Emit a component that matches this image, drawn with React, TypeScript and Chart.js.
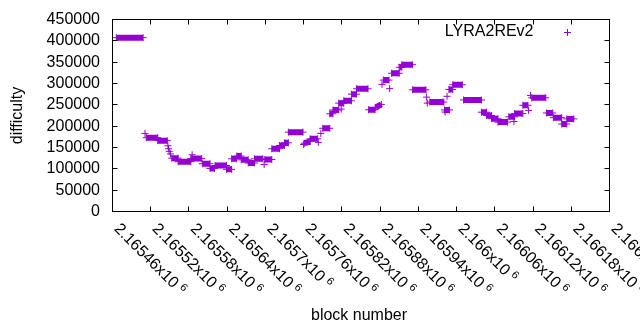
import React, { useEffect, useRef } from "react";
import { Chart, registerables } from "chart.js";

Chart.register(...registerables);

const seriesName = "LYRA2REv2";
const xTitle = "block number";
const yTitle = "difficulty";
const PURPLE = "#9400d3";
const FONT = "'Liberation Sans', Arial, sans-serif";

const xMin = 2165460;
const xMax = 2166240;
const yMin = 0;
const yMax = 450000;

const xTicks = [2165460, 2165520, 2165580, 2165640, 2165700, 2165760, 2165820, 2165880, 2165940, 2166000, 2166060, 2166120, 2166180, 2166240];
const xTickLabels = ["2.16546", "2.16552", "2.16558", "2.16564", "2.1657", "2.16576", "2.16582", "2.16588", "2.16594", "2.166", "2.16606", "2.16612", "2.16618", "2.16624"];
const yTicks = [0, 50000, 100000, 150000, 200000, 250000, 300000, 350000, 400000, 450000];
const yTickLabels = ["0", "50000", "100000", "150000", "200000", "250000", "300000", "350000", "400000", "450000"];

// runs of consecutive blocks: first block, last block, difficulty at first, difficulty at last
const segFrom = [
  2165466, 2165511, 2165513, 2165531, 2165547, 2165548, 2165549, 2165551, 2165553, 2165563,
  2165583, 2165585, 2165601, 2165613, 2165621, 2165639, 2165647, 2165655, 2165662, 2165673,
  2165683, 2165698, 2165699, 2165710, 2165722, 2165730, 2165736, 2165760, 2165761, 2165770,
  2165783, 2165787, 2165790, 2165801, 2165806, 2165815, 2165819, 2165823, 2165835, 2165843,
  2165862, 2165873, 2165883, 2165885, 2165895, 2165898, 2165910, 2165914, 2165931, 2165953,
  2165954, 2165958, 2165981, 2165982, 2165985, 2165988, 2165994, 2166011, 2166039, 2166047,
  2166055, 2166065, 2166082, 2166090, 2166091, 2166104, 2166113, 2166116, 2166118, 2166141,
  2166152, 2166165, 2166173,
];
const segTo = [
  2165508, 2165511, 2165531, 2165546, 2165547, 2165548, 2165549, 2165551, 2165563, 2165583,
  2165600, 2165585, 2165613, 2165620, 2165639, 2165647, 2165655, 2165662, 2165673, 2165683,
  2165696, 2165698, 2165710, 2165722, 2165730, 2165736, 2165759, 2165760, 2165770, 2165782,
  2165783, 2165787, 2165801, 2165806, 2165815, 2165823, 2165819, 2165835, 2165843, 2165861,
  2165872, 2165882, 2165883, 2165894, 2165895, 2165910, 2165914, 2165931, 2165952, 2165953,
  2165954, 2165980, 2165989, 2165982, 2165985, 2165994, 2166009, 2166039, 2166047, 2166055,
  2166065, 2166080, 2166091, 2166090, 2166104, 2166112, 2166113, 2166116, 2166140, 2166151,
  2166165, 2166173, 2166184,
];
const segStartDiff = [
  407500, 183000, 173000, 166000, 154000, 147000, 141000, 135000, 125000, 116800,
  124000, 133000, 112000, 101000, 107800, 98800, 123500, 130000, 121100, 113700,
  123500, 110000, 121800, 147000, 154700, 161000, 186000, 157000, 160000, 170300,
  162000, 183000, 195000, 229000, 238000, 254000, 240000, 259500, 275000, 287600,
  238500, 244000, 298000, 308000, 288000, 324000, 338000, 344000, 285200, 268000,
  254000, 256500, 238000, 233000, 270000, 286000, 297000, 261500, 232800, 225000,
  217500, 209500, 222000, 211000, 229500, 249000, 237000, 272000, 266500, 231000,
  220000, 205000, 217000,
];
const segEndDiff = [
  407500, 183000, 173000, 166000, 154000, 147000, 141000, 135000, 125000, 116800,
  124000, 133000, 112000, 101000, 107800, 98800, 123500, 130000, 121100, 113700,
  123500, 110000, 121800, 147000, 154700, 161000, 186000, 157000, 164000, 170300,
  162000, 183000, 195000, 229000, 238000, 254000, 240000, 259500, 275000, 287600,
  238500, 251000, 298000, 308000, 288000, 324000, 338000, 344000, 285200, 268000,
  254000, 256500, 238000, 233000, 270000, 286000, 297000, 261500, 232800, 225000,
  217500, 209500, 222000, 211000, 229500, 249000, 237000, 272000, 266500, 231000,
  220000, 205000, 217000,
];

const framePlugin = {
  id: "gnuframe",
  afterDraw(chart: any) {
    const ctx: CanvasRenderingContext2D = chart.ctx;
    const { left, right, top, bottom } = chart.chartArea;
    const xs = chart.scales.x;
    const ys = chart.scales.y;
    const snap = (v: number) => Math.round(v - 0.5) + 0.5;
    ctx.save();
    ctx.strokeStyle = "#000";
    ctx.lineWidth = 1;
    ctx.strokeRect(left, top, right - left, bottom - top);
    const tl = 5;
    ctx.beginPath();
    xTicks.forEach((v) => {
      const px = snap(xs.getPixelForValue(v));
      ctx.moveTo(px, bottom);
      ctx.lineTo(px, bottom - tl);
      ctx.moveTo(px, top);
      ctx.lineTo(px, top + tl);
    });
    yTicks.forEach((v) => {
      const py = snap(ys.getPixelForValue(v));
      ctx.moveTo(left, py);
      ctx.lineTo(left + tl, py);
      ctx.moveTo(right, py);
      ctx.lineTo(right - tl, py);
    });
    ctx.stroke();

    ctx.fillStyle = "#000";
    ctx.font = `16px ${FONT}`;
    ctx.textAlign = "right";
    ctx.textBaseline = "middle";
    yTicks.forEach((v, i) => {
      ctx.fillText(yTickLabels[i], 100, ys.getPixelForValue(v));
    });

    xTicks.forEach((v, i) => {
      const px = xs.getPixelForValue(v);
      ctx.save();
      ctx.translate(px + 4, bottom + 15);
      ctx.rotate(Math.PI / 4);
      ctx.textAlign = "left";
      ctx.textBaseline = "middle";
      ctx.font = `16px ${FONT}`;
      const main = xTickLabels[i] + "x10";
      ctx.fillText(main, 0, 0);
      const w = ctx.measureText(main).width;
      ctx.font = `11px ${FONT}`;
      ctx.fillText("6", w + 4, -4);
      ctx.restore();
    });

    ctx.font = `16px ${FONT}`;
    ctx.textAlign = "center";
    ctx.textBaseline = "middle";
    ctx.fillText(xTitle, (left + right) / 2 - 2, 316);
    ctx.save();
    ctx.translate(17.5, (top + bottom) / 2);
    ctx.rotate(-Math.PI / 2);
    ctx.fillText(yTitle, 0, 0);
    ctx.restore();

    ctx.textAlign = "right";
    ctx.fillText(seriesName, 533.5, 32);
    ctx.strokeStyle = PURPLE;
    ctx.beginPath();
    ctx.moveTo(564, 32.5);
    ctx.lineTo(571, 32.5);
    ctx.moveTo(567.5, 29);
    ctx.lineTo(567.5, 36);
    ctx.stroke();
    ctx.restore();
  },
};

export default function App() {
  const ref = useRef<HTMLCanvasElement>(null);
  useEffect(() => {
    const pts: any[] = [];
    for (let i = 0; i < segFrom.length; i++) {
      pts.push({ x: segFrom[i], y: segStartDiff[i] });
      if (segTo[i] !== segFrom[i]) pts.push({ x: segTo[i], y: segEndDiff[i] });
      pts.push({ x: segTo[i], y: null });
    }
    const chart = new Chart(ref.current as HTMLCanvasElement, {
      type: "line",
      data: {
        datasets: [
          {
            label: seriesName,
            data: pts,
            borderColor: PURPLE,
            backgroundColor: PURPLE,
            borderWidth: 6,
            borderCapStyle: "butt",
            pointStyle: "cross",
            pointRadius: 3.5,
            pointBorderWidth: 1,
            pointBorderColor: PURPLE,
            spanGaps: false,
            tension: 0,
            fill: false,
          } as any,
        ],
      },
      options: {
        animation: false,
        responsive: false,
        maintainAspectRatio: false,
        events: [],
        layout: { padding: { left: 112.5, right: 30.5, top: 19.5, bottom: 118.5 } },
        scales: {
          x: { type: "linear", min: xMin, max: xMax, display: false },
          y: { type: "linear", min: yMin, max: yMax, display: false },
        },
        plugins: { legend: { display: false }, tooltip: { enabled: false }, title: { display: false } },
      },
      plugins: [framePlugin],
    });
    return () => chart.destroy();
  }, []);
  return (
    <div style={{ position: "fixed", left: 0, top: 0, width: 640, height: 330, background: "#fff" }}>
      <canvas ref={ref} width={640} height={330} style={{ display: "block" }} />
    </div>
  );
}
